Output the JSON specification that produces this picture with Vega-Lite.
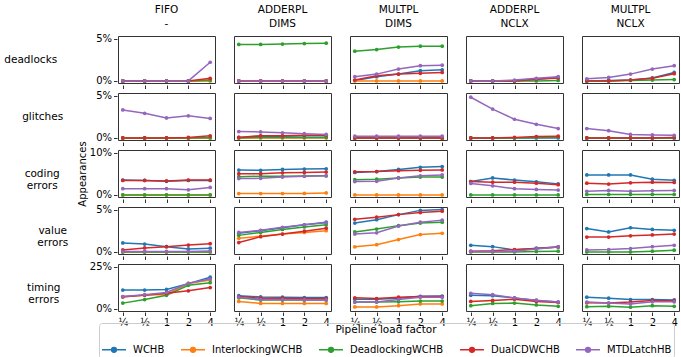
{
"$schema":"https://vega.github.io/schema/vega-lite/v6.json",
"padding":{"left":4,"top":4,"right":0,"bottom":0},
"config":{"font":"DejaVu Sans","view":{"stroke":"#333","strokeWidth":1},
"axis":{"grid":false,"domain":false,"tickColor":"#333","tickSize":3.5,"labelFontSize":10,"labelColor":"#000","titleFontSize":10,"titleFontWeight":"normal","titleColor":"#000","labelPadding":2,"titlePadding":2},
"header":{"labelFontSize":10.5,"labelColor":"#000","titleFontSize":10.5,"titleFontWeight":"normal","titleColor":"#000"},
"legend":{"labelFontSize":10,"labelColor":"#000"}},
"spacing":-11,
"datasets":{"d":[
{"m":"deadlocks","c":"FIFO -","s":"WCHB","x":"¼","v":0},{"m":"deadlocks","c":"FIFO -","s":"WCHB","x":"½","v":0},{"m":"deadlocks","c":"FIFO -","s":"WCHB","x":"1","v":0},{"m":"deadlocks","c":"FIFO -","s":"WCHB","x":"2","v":0},{"m":"deadlocks","c":"FIFO -","s":"WCHB","x":"4","v":0.05},
{"m":"deadlocks","c":"FIFO -","s":"InterlockingWCHB","x":"¼","v":0},{"m":"deadlocks","c":"FIFO -","s":"InterlockingWCHB","x":"½","v":0},{"m":"deadlocks","c":"FIFO -","s":"InterlockingWCHB","x":"1","v":0},{"m":"deadlocks","c":"FIFO -","s":"InterlockingWCHB","x":"2","v":0},{"m":"deadlocks","c":"FIFO -","s":"InterlockingWCHB","x":"4","v":0},
{"m":"deadlocks","c":"FIFO -","s":"DeadlockingWCHB","x":"¼","v":0},{"m":"deadlocks","c":"FIFO -","s":"DeadlockingWCHB","x":"½","v":0},{"m":"deadlocks","c":"FIFO -","s":"DeadlockingWCHB","x":"1","v":0},{"m":"deadlocks","c":"FIFO -","s":"DeadlockingWCHB","x":"2","v":0},{"m":"deadlocks","c":"FIFO -","s":"DeadlockingWCHB","x":"4","v":0.1},
{"m":"deadlocks","c":"FIFO -","s":"DualCDWCHB","x":"¼","v":0},{"m":"deadlocks","c":"FIFO -","s":"DualCDWCHB","x":"½","v":0},{"m":"deadlocks","c":"FIFO -","s":"DualCDWCHB","x":"1","v":0},{"m":"deadlocks","c":"FIFO -","s":"DualCDWCHB","x":"2","v":0},{"m":"deadlocks","c":"FIFO -","s":"DualCDWCHB","x":"4","v":0.3},
{"m":"deadlocks","c":"FIFO -","s":"MTDLatchHB","x":"¼","v":0},{"m":"deadlocks","c":"FIFO -","s":"MTDLatchHB","x":"½","v":0},{"m":"deadlocks","c":"FIFO -","s":"MTDLatchHB","x":"1","v":0},{"m":"deadlocks","c":"FIFO -","s":"MTDLatchHB","x":"2","v":0},{"m":"deadlocks","c":"FIFO -","s":"MTDLatchHB","x":"4","v":2.2},
{"m":"deadlocks","c":"ADDERPL DIMS","s":"WCHB","x":"¼","v":0},{"m":"deadlocks","c":"ADDERPL DIMS","s":"WCHB","x":"½","v":0},{"m":"deadlocks","c":"ADDERPL DIMS","s":"WCHB","x":"1","v":0},{"m":"deadlocks","c":"ADDERPL DIMS","s":"WCHB","x":"2","v":0},{"m":"deadlocks","c":"ADDERPL DIMS","s":"WCHB","x":"4","v":0},
{"m":"deadlocks","c":"ADDERPL DIMS","s":"InterlockingWCHB","x":"¼","v":0},{"m":"deadlocks","c":"ADDERPL DIMS","s":"InterlockingWCHB","x":"½","v":0},{"m":"deadlocks","c":"ADDERPL DIMS","s":"InterlockingWCHB","x":"1","v":0},{"m":"deadlocks","c":"ADDERPL DIMS","s":"InterlockingWCHB","x":"2","v":0},{"m":"deadlocks","c":"ADDERPL DIMS","s":"InterlockingWCHB","x":"4","v":0},
{"m":"deadlocks","c":"ADDERPL DIMS","s":"DeadlockingWCHB","x":"¼","v":4.3},{"m":"deadlocks","c":"ADDERPL DIMS","s":"DeadlockingWCHB","x":"½","v":4.3},{"m":"deadlocks","c":"ADDERPL DIMS","s":"DeadlockingWCHB","x":"1","v":4.35},{"m":"deadlocks","c":"ADDERPL DIMS","s":"DeadlockingWCHB","x":"2","v":4.4},{"m":"deadlocks","c":"ADDERPL DIMS","s":"DeadlockingWCHB","x":"4","v":4.45},
{"m":"deadlocks","c":"ADDERPL DIMS","s":"DualCDWCHB","x":"¼","v":0},{"m":"deadlocks","c":"ADDERPL DIMS","s":"DualCDWCHB","x":"½","v":0},{"m":"deadlocks","c":"ADDERPL DIMS","s":"DualCDWCHB","x":"1","v":0},{"m":"deadlocks","c":"ADDERPL DIMS","s":"DualCDWCHB","x":"2","v":0},{"m":"deadlocks","c":"ADDERPL DIMS","s":"DualCDWCHB","x":"4","v":0},
{"m":"deadlocks","c":"ADDERPL DIMS","s":"MTDLatchHB","x":"¼","v":0},{"m":"deadlocks","c":"ADDERPL DIMS","s":"MTDLatchHB","x":"½","v":0},{"m":"deadlocks","c":"ADDERPL DIMS","s":"MTDLatchHB","x":"1","v":0},{"m":"deadlocks","c":"ADDERPL DIMS","s":"MTDLatchHB","x":"2","v":0},{"m":"deadlocks","c":"ADDERPL DIMS","s":"MTDLatchHB","x":"4","v":0},
{"m":"deadlocks","c":"MULTPL DIMS","s":"WCHB","x":"¼","v":0.05},{"m":"deadlocks","c":"MULTPL DIMS","s":"WCHB","x":"½","v":0.5},{"m":"deadlocks","c":"MULTPL DIMS","s":"WCHB","x":"1","v":0.8},{"m":"deadlocks","c":"MULTPL DIMS","s":"WCHB","x":"2","v":1.2},{"m":"deadlocks","c":"MULTPL DIMS","s":"WCHB","x":"4","v":1.3},
{"m":"deadlocks","c":"MULTPL DIMS","s":"InterlockingWCHB","x":"¼","v":0},{"m":"deadlocks","c":"MULTPL DIMS","s":"InterlockingWCHB","x":"½","v":0},{"m":"deadlocks","c":"MULTPL DIMS","s":"InterlockingWCHB","x":"1","v":0},{"m":"deadlocks","c":"MULTPL DIMS","s":"InterlockingWCHB","x":"2","v":0},{"m":"deadlocks","c":"MULTPL DIMS","s":"InterlockingWCHB","x":"4","v":0},
{"m":"deadlocks","c":"MULTPL DIMS","s":"DeadlockingWCHB","x":"¼","v":3.5},{"m":"deadlocks","c":"MULTPL DIMS","s":"DeadlockingWCHB","x":"½","v":3.7},{"m":"deadlocks","c":"MULTPL DIMS","s":"DeadlockingWCHB","x":"1","v":4.0},{"m":"deadlocks","c":"MULTPL DIMS","s":"DeadlockingWCHB","x":"2","v":4.1},{"m":"deadlocks","c":"MULTPL DIMS","s":"DeadlockingWCHB","x":"4","v":4.1},
{"m":"deadlocks","c":"MULTPL DIMS","s":"DualCDWCHB","x":"¼","v":0.1},{"m":"deadlocks","c":"MULTPL DIMS","s":"DualCDWCHB","x":"½","v":0.6},{"m":"deadlocks","c":"MULTPL DIMS","s":"DualCDWCHB","x":"1","v":0.8},{"m":"deadlocks","c":"MULTPL DIMS","s":"DualCDWCHB","x":"2","v":0.9},{"m":"deadlocks","c":"MULTPL DIMS","s":"DualCDWCHB","x":"4","v":1.0},
{"m":"deadlocks","c":"MULTPL DIMS","s":"MTDLatchHB","x":"¼","v":0.5},{"m":"deadlocks","c":"MULTPL DIMS","s":"MTDLatchHB","x":"½","v":0.8},{"m":"deadlocks","c":"MULTPL DIMS","s":"MTDLatchHB","x":"1","v":1.4},{"m":"deadlocks","c":"MULTPL DIMS","s":"MTDLatchHB","x":"2","v":1.8},{"m":"deadlocks","c":"MULTPL DIMS","s":"MTDLatchHB","x":"4","v":1.85},
{"m":"deadlocks","c":"ADDERPL NCLX","s":"WCHB","x":"¼","v":0},{"m":"deadlocks","c":"ADDERPL NCLX","s":"WCHB","x":"½","v":0},{"m":"deadlocks","c":"ADDERPL NCLX","s":"WCHB","x":"1","v":0},{"m":"deadlocks","c":"ADDERPL NCLX","s":"WCHB","x":"2","v":0.2},{"m":"deadlocks","c":"ADDERPL NCLX","s":"WCHB","x":"4","v":0.4},
{"m":"deadlocks","c":"ADDERPL NCLX","s":"DeadlockingWCHB","x":"¼","v":0},{"m":"deadlocks","c":"ADDERPL NCLX","s":"DeadlockingWCHB","x":"½","v":0},{"m":"deadlocks","c":"ADDERPL NCLX","s":"DeadlockingWCHB","x":"1","v":0},{"m":"deadlocks","c":"ADDERPL NCLX","s":"DeadlockingWCHB","x":"2","v":0},{"m":"deadlocks","c":"ADDERPL NCLX","s":"DeadlockingWCHB","x":"4","v":0.05},
{"m":"deadlocks","c":"ADDERPL NCLX","s":"DualCDWCHB","x":"¼","v":0},{"m":"deadlocks","c":"ADDERPL NCLX","s":"DualCDWCHB","x":"½","v":0},{"m":"deadlocks","c":"ADDERPL NCLX","s":"DualCDWCHB","x":"1","v":0},{"m":"deadlocks","c":"ADDERPL NCLX","s":"DualCDWCHB","x":"2","v":0.2},{"m":"deadlocks","c":"ADDERPL NCLX","s":"DualCDWCHB","x":"4","v":0.35},
{"m":"deadlocks","c":"ADDERPL NCLX","s":"MTDLatchHB","x":"¼","v":0},{"m":"deadlocks","c":"ADDERPL NCLX","s":"MTDLatchHB","x":"½","v":0},{"m":"deadlocks","c":"ADDERPL NCLX","s":"MTDLatchHB","x":"1","v":0.1},{"m":"deadlocks","c":"ADDERPL NCLX","s":"MTDLatchHB","x":"2","v":0.3},{"m":"deadlocks","c":"ADDERPL NCLX","s":"MTDLatchHB","x":"4","v":0.5},
{"m":"deadlocks","c":"MULTPL NCLX","s":"WCHB","x":"¼","v":0},{"m":"deadlocks","c":"MULTPL NCLX","s":"WCHB","x":"½","v":0.05},{"m":"deadlocks","c":"MULTPL NCLX","s":"WCHB","x":"1","v":0.1},{"m":"deadlocks","c":"MULTPL NCLX","s":"WCHB","x":"2","v":0.35},{"m":"deadlocks","c":"MULTPL NCLX","s":"WCHB","x":"4","v":1.0},
{"m":"deadlocks","c":"MULTPL NCLX","s":"DeadlockingWCHB","x":"¼","v":0},{"m":"deadlocks","c":"MULTPL NCLX","s":"DeadlockingWCHB","x":"½","v":0},{"m":"deadlocks","c":"MULTPL NCLX","s":"DeadlockingWCHB","x":"1","v":0.05},{"m":"deadlocks","c":"MULTPL NCLX","s":"DeadlockingWCHB","x":"2","v":0.1},{"m":"deadlocks","c":"MULTPL NCLX","s":"DeadlockingWCHB","x":"4","v":0.15},
{"m":"deadlocks","c":"MULTPL NCLX","s":"DualCDWCHB","x":"¼","v":0},{"m":"deadlocks","c":"MULTPL NCLX","s":"DualCDWCHB","x":"½","v":0},{"m":"deadlocks","c":"MULTPL NCLX","s":"DualCDWCHB","x":"1","v":0.1},{"m":"deadlocks","c":"MULTPL NCLX","s":"DualCDWCHB","x":"2","v":0.3},{"m":"deadlocks","c":"MULTPL NCLX","s":"DualCDWCHB","x":"4","v":0.85},
{"m":"deadlocks","c":"MULTPL NCLX","s":"MTDLatchHB","x":"¼","v":0.25},{"m":"deadlocks","c":"MULTPL NCLX","s":"MTDLatchHB","x":"½","v":0.4},{"m":"deadlocks","c":"MULTPL NCLX","s":"MTDLatchHB","x":"1","v":0.8},{"m":"deadlocks","c":"MULTPL NCLX","s":"MTDLatchHB","x":"2","v":1.4},{"m":"deadlocks","c":"MULTPL NCLX","s":"MTDLatchHB","x":"4","v":1.8},

{"m":"glitches","c":"FIFO -","s":"WCHB","x":"¼","v":0},{"m":"glitches","c":"FIFO -","s":"WCHB","x":"½","v":0},{"m":"glitches","c":"FIFO -","s":"WCHB","x":"1","v":0},{"m":"glitches","c":"FIFO -","s":"WCHB","x":"2","v":0},{"m":"glitches","c":"FIFO -","s":"WCHB","x":"4","v":0},
{"m":"glitches","c":"FIFO -","s":"InterlockingWCHB","x":"¼","v":0},{"m":"glitches","c":"FIFO -","s":"InterlockingWCHB","x":"½","v":0},{"m":"glitches","c":"FIFO -","s":"InterlockingWCHB","x":"1","v":0},{"m":"glitches","c":"FIFO -","s":"InterlockingWCHB","x":"2","v":0},{"m":"glitches","c":"FIFO -","s":"InterlockingWCHB","x":"4","v":0},
{"m":"glitches","c":"FIFO -","s":"DeadlockingWCHB","x":"¼","v":0},{"m":"glitches","c":"FIFO -","s":"DeadlockingWCHB","x":"½","v":0},{"m":"glitches","c":"FIFO -","s":"DeadlockingWCHB","x":"1","v":0},{"m":"glitches","c":"FIFO -","s":"DeadlockingWCHB","x":"2","v":0},{"m":"glitches","c":"FIFO -","s":"DeadlockingWCHB","x":"4","v":0.05},
{"m":"glitches","c":"FIFO -","s":"DualCDWCHB","x":"¼","v":0},{"m":"glitches","c":"FIFO -","s":"DualCDWCHB","x":"½","v":0},{"m":"glitches","c":"FIFO -","s":"DualCDWCHB","x":"1","v":0},{"m":"glitches","c":"FIFO -","s":"DualCDWCHB","x":"2","v":0.05},{"m":"glitches","c":"FIFO -","s":"DualCDWCHB","x":"4","v":0.25},
{"m":"glitches","c":"FIFO -","s":"MTDLatchHB","x":"¼","v":3.3},{"m":"glitches","c":"FIFO -","s":"MTDLatchHB","x":"½","v":2.9},{"m":"glitches","c":"FIFO -","s":"MTDLatchHB","x":"1","v":2.35},{"m":"glitches","c":"FIFO -","s":"MTDLatchHB","x":"2","v":2.6},{"m":"glitches","c":"FIFO -","s":"MTDLatchHB","x":"4","v":2.3},
{"m":"glitches","c":"ADDERPL DIMS","s":"WCHB","x":"¼","v":0.05},{"m":"glitches","c":"ADDERPL DIMS","s":"WCHB","x":"½","v":0.2},{"m":"glitches","c":"ADDERPL DIMS","s":"WCHB","x":"1","v":0.2},{"m":"glitches","c":"ADDERPL DIMS","s":"WCHB","x":"2","v":0.25},{"m":"glitches","c":"ADDERPL DIMS","s":"WCHB","x":"4","v":0.25},
{"m":"glitches","c":"ADDERPL DIMS","s":"InterlockingWCHB","x":"¼","v":0},{"m":"glitches","c":"ADDERPL DIMS","s":"InterlockingWCHB","x":"½","v":0},{"m":"glitches","c":"ADDERPL DIMS","s":"InterlockingWCHB","x":"1","v":0},{"m":"glitches","c":"ADDERPL DIMS","s":"InterlockingWCHB","x":"2","v":0},{"m":"glitches","c":"ADDERPL DIMS","s":"InterlockingWCHB","x":"4","v":0},
{"m":"glitches","c":"ADDERPL DIMS","s":"DeadlockingWCHB","x":"¼","v":0},{"m":"glitches","c":"ADDERPL DIMS","s":"DeadlockingWCHB","x":"½","v":0.05},{"m":"glitches","c":"ADDERPL DIMS","s":"DeadlockingWCHB","x":"1","v":0.05},{"m":"glitches","c":"ADDERPL DIMS","s":"DeadlockingWCHB","x":"2","v":0.05},{"m":"glitches","c":"ADDERPL DIMS","s":"DeadlockingWCHB","x":"4","v":0.05},
{"m":"glitches","c":"ADDERPL DIMS","s":"DualCDWCHB","x":"¼","v":0.05},{"m":"glitches","c":"ADDERPL DIMS","s":"DualCDWCHB","x":"½","v":0.25},{"m":"glitches","c":"ADDERPL DIMS","s":"DualCDWCHB","x":"1","v":0.25},{"m":"glitches","c":"ADDERPL DIMS","s":"DualCDWCHB","x":"2","v":0.3},{"m":"glitches","c":"ADDERPL DIMS","s":"DualCDWCHB","x":"4","v":0.3},
{"m":"glitches","c":"ADDERPL DIMS","s":"MTDLatchHB","x":"¼","v":0.75},{"m":"glitches","c":"ADDERPL DIMS","s":"MTDLatchHB","x":"½","v":0.7},{"m":"glitches","c":"ADDERPL DIMS","s":"MTDLatchHB","x":"1","v":0.6},{"m":"glitches","c":"ADDERPL DIMS","s":"MTDLatchHB","x":"2","v":0.5},{"m":"glitches","c":"ADDERPL DIMS","s":"MTDLatchHB","x":"4","v":0.4},
{"m":"glitches","c":"MULTPL DIMS","s":"WCHB","x":"¼","v":0},{"m":"glitches","c":"MULTPL DIMS","s":"WCHB","x":"½","v":0},{"m":"glitches","c":"MULTPL DIMS","s":"WCHB","x":"1","v":0},{"m":"glitches","c":"MULTPL DIMS","s":"WCHB","x":"2","v":0},{"m":"glitches","c":"MULTPL DIMS","s":"WCHB","x":"4","v":0},
{"m":"glitches","c":"MULTPL DIMS","s":"InterlockingWCHB","x":"¼","v":0},{"m":"glitches","c":"MULTPL DIMS","s":"InterlockingWCHB","x":"½","v":0},{"m":"glitches","c":"MULTPL DIMS","s":"InterlockingWCHB","x":"1","v":0},{"m":"glitches","c":"MULTPL DIMS","s":"InterlockingWCHB","x":"2","v":0},{"m":"glitches","c":"MULTPL DIMS","s":"InterlockingWCHB","x":"4","v":0},
{"m":"glitches","c":"MULTPL DIMS","s":"DeadlockingWCHB","x":"¼","v":0},{"m":"glitches","c":"MULTPL DIMS","s":"DeadlockingWCHB","x":"½","v":0},{"m":"glitches","c":"MULTPL DIMS","s":"DeadlockingWCHB","x":"1","v":0},{"m":"glitches","c":"MULTPL DIMS","s":"DeadlockingWCHB","x":"2","v":0},{"m":"glitches","c":"MULTPL DIMS","s":"DeadlockingWCHB","x":"4","v":0},
{"m":"glitches","c":"MULTPL DIMS","s":"DualCDWCHB","x":"¼","v":0},{"m":"glitches","c":"MULTPL DIMS","s":"DualCDWCHB","x":"½","v":0},{"m":"glitches","c":"MULTPL DIMS","s":"DualCDWCHB","x":"1","v":0},{"m":"glitches","c":"MULTPL DIMS","s":"DualCDWCHB","x":"2","v":0},{"m":"glitches","c":"MULTPL DIMS","s":"DualCDWCHB","x":"4","v":0},
{"m":"glitches","c":"MULTPL DIMS","s":"MTDLatchHB","x":"¼","v":0.2},{"m":"glitches","c":"MULTPL DIMS","s":"MTDLatchHB","x":"½","v":0.2},{"m":"glitches","c":"MULTPL DIMS","s":"MTDLatchHB","x":"1","v":0.2},{"m":"glitches","c":"MULTPL DIMS","s":"MTDLatchHB","x":"2","v":0.2},{"m":"glitches","c":"MULTPL DIMS","s":"MTDLatchHB","x":"4","v":0.2},
{"m":"glitches","c":"ADDERPL NCLX","s":"WCHB","x":"¼","v":0},{"m":"glitches","c":"ADDERPL NCLX","s":"WCHB","x":"½","v":0},{"m":"glitches","c":"ADDERPL NCLX","s":"WCHB","x":"1","v":0},{"m":"glitches","c":"ADDERPL NCLX","s":"WCHB","x":"2","v":0},{"m":"glitches","c":"ADDERPL NCLX","s":"WCHB","x":"4","v":0},
{"m":"glitches","c":"ADDERPL NCLX","s":"DeadlockingWCHB","x":"¼","v":0},{"m":"glitches","c":"ADDERPL NCLX","s":"DeadlockingWCHB","x":"½","v":0},{"m":"glitches","c":"ADDERPL NCLX","s":"DeadlockingWCHB","x":"1","v":0},{"m":"glitches","c":"ADDERPL NCLX","s":"DeadlockingWCHB","x":"2","v":0.05},{"m":"glitches","c":"ADDERPL NCLX","s":"DeadlockingWCHB","x":"4","v":0.1},
{"m":"glitches","c":"ADDERPL NCLX","s":"DualCDWCHB","x":"¼","v":0},{"m":"glitches","c":"ADDERPL NCLX","s":"DualCDWCHB","x":"½","v":0},{"m":"glitches","c":"ADDERPL NCLX","s":"DualCDWCHB","x":"1","v":0.05},{"m":"glitches","c":"ADDERPL NCLX","s":"DualCDWCHB","x":"2","v":0.15},{"m":"glitches","c":"ADDERPL NCLX","s":"DualCDWCHB","x":"4","v":0.2},
{"m":"glitches","c":"ADDERPL NCLX","s":"MTDLatchHB","x":"¼","v":4.8},{"m":"glitches","c":"ADDERPL NCLX","s":"MTDLatchHB","x":"½","v":3.4},{"m":"glitches","c":"ADDERPL NCLX","s":"MTDLatchHB","x":"1","v":2.2},{"m":"glitches","c":"ADDERPL NCLX","s":"MTDLatchHB","x":"2","v":1.6},{"m":"glitches","c":"ADDERPL NCLX","s":"MTDLatchHB","x":"4","v":1.1},
{"m":"glitches","c":"MULTPL NCLX","s":"WCHB","x":"¼","v":0},{"m":"glitches","c":"MULTPL NCLX","s":"WCHB","x":"½","v":0},{"m":"glitches","c":"MULTPL NCLX","s":"WCHB","x":"1","v":0},{"m":"glitches","c":"MULTPL NCLX","s":"WCHB","x":"2","v":0},{"m":"glitches","c":"MULTPL NCLX","s":"WCHB","x":"4","v":0},
{"m":"glitches","c":"MULTPL NCLX","s":"DeadlockingWCHB","x":"¼","v":0},{"m":"glitches","c":"MULTPL NCLX","s":"DeadlockingWCHB","x":"½","v":0},{"m":"glitches","c":"MULTPL NCLX","s":"DeadlockingWCHB","x":"1","v":0},{"m":"glitches","c":"MULTPL NCLX","s":"DeadlockingWCHB","x":"2","v":0},{"m":"glitches","c":"MULTPL NCLX","s":"DeadlockingWCHB","x":"4","v":0},
{"m":"glitches","c":"MULTPL NCLX","s":"DualCDWCHB","x":"¼","v":0},{"m":"glitches","c":"MULTPL NCLX","s":"DualCDWCHB","x":"½","v":0},{"m":"glitches","c":"MULTPL NCLX","s":"DualCDWCHB","x":"1","v":0},{"m":"glitches","c":"MULTPL NCLX","s":"DualCDWCHB","x":"2","v":0},{"m":"glitches","c":"MULTPL NCLX","s":"DualCDWCHB","x":"4","v":0.05},
{"m":"glitches","c":"MULTPL NCLX","s":"MTDLatchHB","x":"¼","v":1.1},{"m":"glitches","c":"MULTPL NCLX","s":"MTDLatchHB","x":"½","v":0.85},{"m":"glitches","c":"MULTPL NCLX","s":"MTDLatchHB","x":"1","v":0.4},{"m":"glitches","c":"MULTPL NCLX","s":"MTDLatchHB","x":"2","v":0.35},{"m":"glitches","c":"MULTPL NCLX","s":"MTDLatchHB","x":"4","v":0.3},

{"m":"coding errors","c":"FIFO -","s":"WCHB","x":"¼","v":3.5},{"m":"coding errors","c":"FIFO -","s":"WCHB","x":"½","v":3.4},{"m":"coding errors","c":"FIFO -","s":"WCHB","x":"1","v":3.2},{"m":"coding errors","c":"FIFO -","s":"WCHB","x":"2","v":3.4},{"m":"coding errors","c":"FIFO -","s":"WCHB","x":"4","v":3.4},
{"m":"coding errors","c":"FIFO -","s":"InterlockingWCHB","x":"¼","v":0},{"m":"coding errors","c":"FIFO -","s":"InterlockingWCHB","x":"½","v":0},{"m":"coding errors","c":"FIFO -","s":"InterlockingWCHB","x":"1","v":0},{"m":"coding errors","c":"FIFO -","s":"InterlockingWCHB","x":"2","v":0},{"m":"coding errors","c":"FIFO -","s":"InterlockingWCHB","x":"4","v":0},
{"m":"coding errors","c":"FIFO -","s":"DeadlockingWCHB","x":"¼","v":0},{"m":"coding errors","c":"FIFO -","s":"DeadlockingWCHB","x":"½","v":0},{"m":"coding errors","c":"FIFO -","s":"DeadlockingWCHB","x":"1","v":0},{"m":"coding errors","c":"FIFO -","s":"DeadlockingWCHB","x":"2","v":0},{"m":"coding errors","c":"FIFO -","s":"DeadlockingWCHB","x":"4","v":0},
{"m":"coding errors","c":"FIFO -","s":"DualCDWCHB","x":"¼","v":3.4},{"m":"coding errors","c":"FIFO -","s":"DualCDWCHB","x":"½","v":3.4},{"m":"coding errors","c":"FIFO -","s":"DualCDWCHB","x":"1","v":3.3},{"m":"coding errors","c":"FIFO -","s":"DualCDWCHB","x":"2","v":3.5},{"m":"coding errors","c":"FIFO -","s":"DualCDWCHB","x":"4","v":3.5},
{"m":"coding errors","c":"FIFO -","s":"MTDLatchHB","x":"¼","v":1.45},{"m":"coding errors","c":"FIFO -","s":"MTDLatchHB","x":"½","v":1.45},{"m":"coding errors","c":"FIFO -","s":"MTDLatchHB","x":"1","v":1.45},{"m":"coding errors","c":"FIFO -","s":"MTDLatchHB","x":"2","v":1.2},{"m":"coding errors","c":"FIFO -","s":"MTDLatchHB","x":"4","v":1.75},
{"m":"coding errors","c":"ADDERPL DIMS","s":"WCHB","x":"¼","v":5.85},{"m":"coding errors","c":"ADDERPL DIMS","s":"WCHB","x":"½","v":5.8},{"m":"coding errors","c":"ADDERPL DIMS","s":"WCHB","x":"1","v":6.0},{"m":"coding errors","c":"ADDERPL DIMS","s":"WCHB","x":"2","v":6.1},{"m":"coding errors","c":"ADDERPL DIMS","s":"WCHB","x":"4","v":6.15},
{"m":"coding errors","c":"ADDERPL DIMS","s":"InterlockingWCHB","x":"¼","v":0.3},{"m":"coding errors","c":"ADDERPL DIMS","s":"InterlockingWCHB","x":"½","v":0.3},{"m":"coding errors","c":"ADDERPL DIMS","s":"InterlockingWCHB","x":"1","v":0.3},{"m":"coding errors","c":"ADDERPL DIMS","s":"InterlockingWCHB","x":"2","v":0.35},{"m":"coding errors","c":"ADDERPL DIMS","s":"InterlockingWCHB","x":"4","v":0.45},
{"m":"coding errors","c":"ADDERPL DIMS","s":"DeadlockingWCHB","x":"¼","v":4.3},{"m":"coding errors","c":"ADDERPL DIMS","s":"DeadlockingWCHB","x":"½","v":4.4},{"m":"coding errors","c":"ADDERPL DIMS","s":"DeadlockingWCHB","x":"1","v":4.4},{"m":"coding errors","c":"ADDERPL DIMS","s":"DeadlockingWCHB","x":"2","v":4.45},{"m":"coding errors","c":"ADDERPL DIMS","s":"DeadlockingWCHB","x":"4","v":4.5},
{"m":"coding errors","c":"ADDERPL DIMS","s":"DualCDWCHB","x":"¼","v":5.0},{"m":"coding errors","c":"ADDERPL DIMS","s":"DualCDWCHB","x":"½","v":5.0},{"m":"coding errors","c":"ADDERPL DIMS","s":"DualCDWCHB","x":"1","v":5.2},{"m":"coding errors","c":"ADDERPL DIMS","s":"DualCDWCHB","x":"2","v":5.3},{"m":"coding errors","c":"ADDERPL DIMS","s":"DualCDWCHB","x":"4","v":5.4},
{"m":"coding errors","c":"ADDERPL DIMS","s":"MTDLatchHB","x":"¼","v":3.85},{"m":"coding errors","c":"ADDERPL DIMS","s":"MTDLatchHB","x":"½","v":3.9},{"m":"coding errors","c":"ADDERPL DIMS","s":"MTDLatchHB","x":"1","v":4.2},{"m":"coding errors","c":"ADDERPL DIMS","s":"MTDLatchHB","x":"2","v":4.4},{"m":"coding errors","c":"ADDERPL DIMS","s":"MTDLatchHB","x":"4","v":4.5},
{"m":"coding errors","c":"MULTPL DIMS","s":"WCHB","x":"¼","v":5.3},{"m":"coding errors","c":"MULTPL DIMS","s":"WCHB","x":"½","v":5.5},{"m":"coding errors","c":"MULTPL DIMS","s":"WCHB","x":"1","v":6.0},{"m":"coding errors","c":"MULTPL DIMS","s":"WCHB","x":"2","v":6.5},{"m":"coding errors","c":"MULTPL DIMS","s":"WCHB","x":"4","v":6.7},
{"m":"coding errors","c":"MULTPL DIMS","s":"InterlockingWCHB","x":"¼","v":0},{"m":"coding errors","c":"MULTPL DIMS","s":"InterlockingWCHB","x":"½","v":0},{"m":"coding errors","c":"MULTPL DIMS","s":"InterlockingWCHB","x":"1","v":0},{"m":"coding errors","c":"MULTPL DIMS","s":"InterlockingWCHB","x":"2","v":0},{"m":"coding errors","c":"MULTPL DIMS","s":"InterlockingWCHB","x":"4","v":0},
{"m":"coding errors","c":"MULTPL DIMS","s":"DeadlockingWCHB","x":"¼","v":3.6},{"m":"coding errors","c":"MULTPL DIMS","s":"DeadlockingWCHB","x":"½","v":3.7},{"m":"coding errors","c":"MULTPL DIMS","s":"DeadlockingWCHB","x":"1","v":4.0},{"m":"coding errors","c":"MULTPL DIMS","s":"DeadlockingWCHB","x":"2","v":4.2},{"m":"coding errors","c":"MULTPL DIMS","s":"DeadlockingWCHB","x":"4","v":4.2},
{"m":"coding errors","c":"MULTPL DIMS","s":"DualCDWCHB","x":"¼","v":5.45},{"m":"coding errors","c":"MULTPL DIMS","s":"DualCDWCHB","x":"½","v":5.5},{"m":"coding errors","c":"MULTPL DIMS","s":"DualCDWCHB","x":"1","v":5.7},{"m":"coding errors","c":"MULTPL DIMS","s":"DualCDWCHB","x":"2","v":5.8},{"m":"coding errors","c":"MULTPL DIMS","s":"DualCDWCHB","x":"4","v":5.9},
{"m":"coding errors","c":"MULTPL DIMS","s":"MTDLatchHB","x":"¼","v":3.15},{"m":"coding errors","c":"MULTPL DIMS","s":"MTDLatchHB","x":"½","v":3.2},{"m":"coding errors","c":"MULTPL DIMS","s":"MTDLatchHB","x":"1","v":4.0},{"m":"coding errors","c":"MULTPL DIMS","s":"MTDLatchHB","x":"2","v":4.5},{"m":"coding errors","c":"MULTPL DIMS","s":"MTDLatchHB","x":"4","v":4.7},
{"m":"coding errors","c":"ADDERPL NCLX","s":"WCHB","x":"¼","v":3.15},{"m":"coding errors","c":"ADDERPL NCLX","s":"WCHB","x":"½","v":4.0},{"m":"coding errors","c":"ADDERPL NCLX","s":"WCHB","x":"1","v":3.5},{"m":"coding errors","c":"ADDERPL NCLX","s":"WCHB","x":"2","v":3.1},{"m":"coding errors","c":"ADDERPL NCLX","s":"WCHB","x":"4","v":2.6},
{"m":"coding errors","c":"ADDERPL NCLX","s":"DeadlockingWCHB","x":"¼","v":0},{"m":"coding errors","c":"ADDERPL NCLX","s":"DeadlockingWCHB","x":"½","v":0},{"m":"coding errors","c":"ADDERPL NCLX","s":"DeadlockingWCHB","x":"1","v":0},{"m":"coding errors","c":"ADDERPL NCLX","s":"DeadlockingWCHB","x":"2","v":0},{"m":"coding errors","c":"ADDERPL NCLX","s":"DeadlockingWCHB","x":"4","v":0},
{"m":"coding errors","c":"ADDERPL NCLX","s":"DualCDWCHB","x":"¼","v":3.15},{"m":"coding errors","c":"ADDERPL NCLX","s":"DualCDWCHB","x":"½","v":3.0},{"m":"coding errors","c":"ADDERPL NCLX","s":"DualCDWCHB","x":"1","v":3.0},{"m":"coding errors","c":"ADDERPL NCLX","s":"DualCDWCHB","x":"2","v":2.75},{"m":"coding errors","c":"ADDERPL NCLX","s":"DualCDWCHB","x":"4","v":2.4},
{"m":"coding errors","c":"ADDERPL NCLX","s":"MTDLatchHB","x":"¼","v":2.7},{"m":"coding errors","c":"ADDERPL NCLX","s":"MTDLatchHB","x":"½","v":2.15},{"m":"coding errors","c":"ADDERPL NCLX","s":"MTDLatchHB","x":"1","v":1.45},{"m":"coding errors","c":"ADDERPL NCLX","s":"MTDLatchHB","x":"2","v":1.3},{"m":"coding errors","c":"ADDERPL NCLX","s":"MTDLatchHB","x":"4","v":1.15},
{"m":"coding errors","c":"MULTPL NCLX","s":"WCHB","x":"¼","v":4.7},{"m":"coding errors","c":"MULTPL NCLX","s":"WCHB","x":"½","v":4.7},{"m":"coding errors","c":"MULTPL NCLX","s":"WCHB","x":"1","v":4.7},{"m":"coding errors","c":"MULTPL NCLX","s":"WCHB","x":"2","v":3.7},{"m":"coding errors","c":"MULTPL NCLX","s":"WCHB","x":"4","v":3.45},
{"m":"coding errors","c":"MULTPL NCLX","s":"DeadlockingWCHB","x":"¼","v":0.1},{"m":"coding errors","c":"MULTPL NCLX","s":"DeadlockingWCHB","x":"½","v":0.1},{"m":"coding errors","c":"MULTPL NCLX","s":"DeadlockingWCHB","x":"1","v":0.1},{"m":"coding errors","c":"MULTPL NCLX","s":"DeadlockingWCHB","x":"2","v":0.1},{"m":"coding errors","c":"MULTPL NCLX","s":"DeadlockingWCHB","x":"4","v":0.1},
{"m":"coding errors","c":"MULTPL NCLX","s":"DualCDWCHB","x":"¼","v":2.75},{"m":"coding errors","c":"MULTPL NCLX","s":"DualCDWCHB","x":"½","v":2.55},{"m":"coding errors","c":"MULTPL NCLX","s":"DualCDWCHB","x":"1","v":2.85},{"m":"coding errors","c":"MULTPL NCLX","s":"DualCDWCHB","x":"2","v":3.0},{"m":"coding errors","c":"MULTPL NCLX","s":"DualCDWCHB","x":"4","v":2.95},
{"m":"coding errors","c":"MULTPL NCLX","s":"MTDLatchHB","x":"¼","v":0.85},{"m":"coding errors","c":"MULTPL NCLX","s":"MTDLatchHB","x":"½","v":1.05},{"m":"coding errors","c":"MULTPL NCLX","s":"MTDLatchHB","x":"1","v":0.85},{"m":"coding errors","c":"MULTPL NCLX","s":"MTDLatchHB","x":"2","v":1.0},{"m":"coding errors","c":"MULTPL NCLX","s":"MTDLatchHB","x":"4","v":1.05},

{"m":"value errors","c":"FIFO -","s":"WCHB","x":"¼","v":1.05},{"m":"value errors","c":"FIFO -","s":"WCHB","x":"½","v":0.93},{"m":"value errors","c":"FIFO -","s":"WCHB","x":"1","v":0.62},{"m":"value errors","c":"FIFO -","s":"WCHB","x":"2","v":0.35},{"m":"value errors","c":"FIFO -","s":"WCHB","x":"4","v":0.43},
{"m":"value errors","c":"FIFO -","s":"InterlockingWCHB","x":"¼","v":0},{"m":"value errors","c":"FIFO -","s":"InterlockingWCHB","x":"½","v":0},{"m":"value errors","c":"FIFO -","s":"InterlockingWCHB","x":"1","v":0},{"m":"value errors","c":"FIFO -","s":"InterlockingWCHB","x":"2","v":0},{"m":"value errors","c":"FIFO -","s":"InterlockingWCHB","x":"4","v":0},
{"m":"value errors","c":"FIFO -","s":"DeadlockingWCHB","x":"¼","v":0},{"m":"value errors","c":"FIFO -","s":"DeadlockingWCHB","x":"½","v":0},{"m":"value errors","c":"FIFO -","s":"DeadlockingWCHB","x":"1","v":0},{"m":"value errors","c":"FIFO -","s":"DeadlockingWCHB","x":"2","v":0},{"m":"value errors","c":"FIFO -","s":"DeadlockingWCHB","x":"4","v":0},
{"m":"value errors","c":"FIFO -","s":"DualCDWCHB","x":"¼","v":0.23},{"m":"value errors","c":"FIFO -","s":"DualCDWCHB","x":"½","v":0.47},{"m":"value errors","c":"FIFO -","s":"DualCDWCHB","x":"1","v":0.62},{"m":"value errors","c":"FIFO -","s":"DualCDWCHB","x":"2","v":0.81},{"m":"value errors","c":"FIFO -","s":"DualCDWCHB","x":"4","v":0.97},
{"m":"value errors","c":"FIFO -","s":"MTDLatchHB","x":"¼","v":0.05},{"m":"value errors","c":"FIFO -","s":"MTDLatchHB","x":"½","v":0.05},{"m":"value errors","c":"FIFO -","s":"MTDLatchHB","x":"1","v":0.05},{"m":"value errors","c":"FIFO -","s":"MTDLatchHB","x":"2","v":0.05},{"m":"value errors","c":"FIFO -","s":"MTDLatchHB","x":"4","v":0.1},
{"m":"value errors","c":"ADDERPL DIMS","s":"WCHB","x":"¼","v":2.2},{"m":"value errors","c":"ADDERPL DIMS","s":"WCHB","x":"½","v":2.5},{"m":"value errors","c":"ADDERPL DIMS","s":"WCHB","x":"1","v":2.85},{"m":"value errors","c":"ADDERPL DIMS","s":"WCHB","x":"2","v":3.2},{"m":"value errors","c":"ADDERPL DIMS","s":"WCHB","x":"4","v":3.5},
{"m":"value errors","c":"ADDERPL DIMS","s":"InterlockingWCHB","x":"¼","v":1.6},{"m":"value errors","c":"ADDERPL DIMS","s":"InterlockingWCHB","x":"½","v":1.85},{"m":"value errors","c":"ADDERPL DIMS","s":"InterlockingWCHB","x":"1","v":2.1},{"m":"value errors","c":"ADDERPL DIMS","s":"InterlockingWCHB","x":"2","v":2.3},{"m":"value errors","c":"ADDERPL DIMS","s":"InterlockingWCHB","x":"4","v":2.5},
{"m":"value errors","c":"ADDERPL DIMS","s":"DeadlockingWCHB","x":"¼","v":1.95},{"m":"value errors","c":"ADDERPL DIMS","s":"DeadlockingWCHB","x":"½","v":2.3},{"m":"value errors","c":"ADDERPL DIMS","s":"DeadlockingWCHB","x":"1","v":2.65},{"m":"value errors","c":"ADDERPL DIMS","s":"DeadlockingWCHB","x":"2","v":2.95},{"m":"value errors","c":"ADDERPL DIMS","s":"DeadlockingWCHB","x":"4","v":3.2},
{"m":"value errors","c":"ADDERPL DIMS","s":"DualCDWCHB","x":"¼","v":1.1},{"m":"value errors","c":"ADDERPL DIMS","s":"DualCDWCHB","x":"½","v":1.8},{"m":"value errors","c":"ADDERPL DIMS","s":"DualCDWCHB","x":"1","v":2.1},{"m":"value errors","c":"ADDERPL DIMS","s":"DualCDWCHB","x":"2","v":2.45},{"m":"value errors","c":"ADDERPL DIMS","s":"DualCDWCHB","x":"4","v":2.8},
{"m":"value errors","c":"ADDERPL DIMS","s":"MTDLatchHB","x":"¼","v":2.3},{"m":"value errors","c":"ADDERPL DIMS","s":"MTDLatchHB","x":"½","v":2.55},{"m":"value errors","c":"ADDERPL DIMS","s":"MTDLatchHB","x":"1","v":2.9},{"m":"value errors","c":"ADDERPL DIMS","s":"MTDLatchHB","x":"2","v":3.2},{"m":"value errors","c":"ADDERPL DIMS","s":"MTDLatchHB","x":"4","v":3.45},
{"m":"value errors","c":"MULTPL DIMS","s":"WCHB","x":"¼","v":3.4},{"m":"value errors","c":"MULTPL DIMS","s":"WCHB","x":"½","v":3.8},{"m":"value errors","c":"MULTPL DIMS","s":"WCHB","x":"1","v":4.4},{"m":"value errors","c":"MULTPL DIMS","s":"WCHB","x":"2","v":4.9},{"m":"value errors","c":"MULTPL DIMS","s":"WCHB","x":"4","v":5.0},
{"m":"value errors","c":"MULTPL DIMS","s":"InterlockingWCHB","x":"¼","v":0.6},{"m":"value errors","c":"MULTPL DIMS","s":"InterlockingWCHB","x":"½","v":0.85},{"m":"value errors","c":"MULTPL DIMS","s":"InterlockingWCHB","x":"1","v":1.45},{"m":"value errors","c":"MULTPL DIMS","s":"InterlockingWCHB","x":"2","v":2.05},{"m":"value errors","c":"MULTPL DIMS","s":"InterlockingWCHB","x":"4","v":2.2},
{"m":"value errors","c":"MULTPL DIMS","s":"DeadlockingWCHB","x":"¼","v":2.35},{"m":"value errors","c":"MULTPL DIMS","s":"DeadlockingWCHB","x":"½","v":2.7},{"m":"value errors","c":"MULTPL DIMS","s":"DeadlockingWCHB","x":"1","v":3.1},{"m":"value errors","c":"MULTPL DIMS","s":"DeadlockingWCHB","x":"2","v":3.4},{"m":"value errors","c":"MULTPL DIMS","s":"DeadlockingWCHB","x":"4","v":3.5},
{"m":"value errors","c":"MULTPL DIMS","s":"DualCDWCHB","x":"¼","v":3.85},{"m":"value errors","c":"MULTPL DIMS","s":"DualCDWCHB","x":"½","v":4.1},{"m":"value errors","c":"MULTPL DIMS","s":"DualCDWCHB","x":"1","v":4.4},{"m":"value errors","c":"MULTPL DIMS","s":"DualCDWCHB","x":"2","v":4.65},{"m":"value errors","c":"MULTPL DIMS","s":"DualCDWCHB","x":"4","v":4.8},
{"m":"value errors","c":"MULTPL DIMS","s":"MTDLatchHB","x":"¼","v":2.1},{"m":"value errors","c":"MULTPL DIMS","s":"MTDLatchHB","x":"½","v":2.25},{"m":"value errors","c":"MULTPL DIMS","s":"MTDLatchHB","x":"1","v":3.05},{"m":"value errors","c":"MULTPL DIMS","s":"MTDLatchHB","x":"2","v":3.5},{"m":"value errors","c":"MULTPL DIMS","s":"MTDLatchHB","x":"4","v":3.75},
{"m":"value errors","c":"ADDERPL NCLX","s":"WCHB","x":"¼","v":0.78},{"m":"value errors","c":"ADDERPL NCLX","s":"WCHB","x":"½","v":0.62},{"m":"value errors","c":"ADDERPL NCLX","s":"WCHB","x":"1","v":0.23},{"m":"value errors","c":"ADDERPL NCLX","s":"WCHB","x":"2","v":0.43},{"m":"value errors","c":"ADDERPL NCLX","s":"WCHB","x":"4","v":0.58},
{"m":"value errors","c":"ADDERPL NCLX","s":"DeadlockingWCHB","x":"¼","v":0},{"m":"value errors","c":"ADDERPL NCLX","s":"DeadlockingWCHB","x":"½","v":0},{"m":"value errors","c":"ADDERPL NCLX","s":"DeadlockingWCHB","x":"1","v":0},{"m":"value errors","c":"ADDERPL NCLX","s":"DeadlockingWCHB","x":"2","v":0.04},{"m":"value errors","c":"ADDERPL NCLX","s":"DeadlockingWCHB","x":"4","v":0.08},
{"m":"value errors","c":"ADDERPL NCLX","s":"DualCDWCHB","x":"¼","v":0.08},{"m":"value errors","c":"ADDERPL NCLX","s":"DualCDWCHB","x":"½","v":0.12},{"m":"value errors","c":"ADDERPL NCLX","s":"DualCDWCHB","x":"1","v":0.27},{"m":"value errors","c":"ADDERPL NCLX","s":"DualCDWCHB","x":"2","v":0.39},{"m":"value errors","c":"ADDERPL NCLX","s":"DualCDWCHB","x":"4","v":0.58},
{"m":"value errors","c":"ADDERPL NCLX","s":"MTDLatchHB","x":"¼","v":0.04},{"m":"value errors","c":"ADDERPL NCLX","s":"MTDLatchHB","x":"½","v":0.04},{"m":"value errors","c":"ADDERPL NCLX","s":"MTDLatchHB","x":"1","v":0.08},{"m":"value errors","c":"ADDERPL NCLX","s":"MTDLatchHB","x":"2","v":0.35},{"m":"value errors","c":"ADDERPL NCLX","s":"MTDLatchHB","x":"4","v":0.58},
{"m":"value errors","c":"MULTPL NCLX","s":"WCHB","x":"¼","v":2.75},{"m":"value errors","c":"MULTPL NCLX","s":"WCHB","x":"½","v":2.35},{"m":"value errors","c":"MULTPL NCLX","s":"WCHB","x":"1","v":2.85},{"m":"value errors","c":"MULTPL NCLX","s":"WCHB","x":"2","v":2.65},{"m":"value errors","c":"MULTPL NCLX","s":"WCHB","x":"4","v":2.55},
{"m":"value errors","c":"MULTPL NCLX","s":"DeadlockingWCHB","x":"¼","v":0},{"m":"value errors","c":"MULTPL NCLX","s":"DeadlockingWCHB","x":"½","v":0},{"m":"value errors","c":"MULTPL NCLX","s":"DeadlockingWCHB","x":"1","v":0},{"m":"value errors","c":"MULTPL NCLX","s":"DeadlockingWCHB","x":"2","v":0.08},{"m":"value errors","c":"MULTPL NCLX","s":"DeadlockingWCHB","x":"4","v":0.2},
{"m":"value errors","c":"MULTPL NCLX","s":"DualCDWCHB","x":"¼","v":1.75},{"m":"value errors","c":"MULTPL NCLX","s":"DualCDWCHB","x":"½","v":1.75},{"m":"value errors","c":"MULTPL NCLX","s":"DualCDWCHB","x":"1","v":1.9},{"m":"value errors","c":"MULTPL NCLX","s":"DualCDWCHB","x":"2","v":2.0},{"m":"value errors","c":"MULTPL NCLX","s":"DualCDWCHB","x":"4","v":2.1},
{"m":"value errors","c":"MULTPL NCLX","s":"MTDLatchHB","x":"¼","v":0.23},{"m":"value errors","c":"MULTPL NCLX","s":"MTDLatchHB","x":"½","v":0.27},{"m":"value errors","c":"MULTPL NCLX","s":"MTDLatchHB","x":"1","v":0.39},{"m":"value errors","c":"MULTPL NCLX","s":"MTDLatchHB","x":"2","v":0.62},{"m":"value errors","c":"MULTPL NCLX","s":"MTDLatchHB","x":"4","v":0.78},

{"m":"timing errors","c":"FIFO -","s":"WCHB","x":"¼","v":11.1},{"m":"timing errors","c":"FIFO -","s":"WCHB","x":"½","v":11.1},{"m":"timing errors","c":"FIFO -","s":"WCHB","x":"1","v":11.5},{"m":"timing errors","c":"FIFO -","s":"WCHB","x":"2","v":14.9},{"m":"timing errors","c":"FIFO -","s":"WCHB","x":"4","v":18.7},
{"m":"timing errors","c":"FIFO -","s":"InterlockingWCHB","x":"¼","v":7.0},{"m":"timing errors","c":"FIFO -","s":"InterlockingWCHB","x":"½","v":8.2},{"m":"timing errors","c":"FIFO -","s":"InterlockingWCHB","x":"1","v":8.5},{"m":"timing errors","c":"FIFO -","s":"InterlockingWCHB","x":"2","v":15.0},{"m":"timing errors","c":"FIFO -","s":"InterlockingWCHB","x":"4","v":17.0},
{"m":"timing errors","c":"FIFO -","s":"DeadlockingWCHB","x":"¼","v":3.4},{"m":"timing errors","c":"FIFO -","s":"DeadlockingWCHB","x":"½","v":5.5},{"m":"timing errors","c":"FIFO -","s":"DeadlockingWCHB","x":"1","v":8.0},{"m":"timing errors","c":"FIFO -","s":"DeadlockingWCHB","x":"2","v":13.9},{"m":"timing errors","c":"FIFO -","s":"DeadlockingWCHB","x":"4","v":15.5},
{"m":"timing errors","c":"FIFO -","s":"DualCDWCHB","x":"¼","v":7.1},{"m":"timing errors","c":"FIFO -","s":"DualCDWCHB","x":"½","v":8.0},{"m":"timing errors","c":"FIFO -","s":"DualCDWCHB","x":"1","v":9.2},{"m":"timing errors","c":"FIFO -","s":"DualCDWCHB","x":"2","v":10.7},{"m":"timing errors","c":"FIFO -","s":"DualCDWCHB","x":"4","v":12.6},
{"m":"timing errors","c":"FIFO -","s":"MTDLatchHB","x":"¼","v":7.25},{"m":"timing errors","c":"FIFO -","s":"MTDLatchHB","x":"½","v":8.4},{"m":"timing errors","c":"FIFO -","s":"MTDLatchHB","x":"1","v":9.7},{"m":"timing errors","c":"FIFO -","s":"MTDLatchHB","x":"2","v":15.1},{"m":"timing errors","c":"FIFO -","s":"MTDLatchHB","x":"4","v":17.6},
{"m":"timing errors","c":"ADDERPL DIMS","s":"WCHB","x":"¼","v":7.8},{"m":"timing errors","c":"ADDERPL DIMS","s":"WCHB","x":"½","v":7.05},{"m":"timing errors","c":"ADDERPL DIMS","s":"WCHB","x":"1","v":6.9},{"m":"timing errors","c":"ADDERPL DIMS","s":"WCHB","x":"2","v":6.7},{"m":"timing errors","c":"ADDERPL DIMS","s":"WCHB","x":"4","v":6.7},
{"m":"timing errors","c":"ADDERPL DIMS","s":"InterlockingWCHB","x":"¼","v":4.4},{"m":"timing errors","c":"ADDERPL DIMS","s":"InterlockingWCHB","x":"½","v":3.2},{"m":"timing errors","c":"ADDERPL DIMS","s":"InterlockingWCHB","x":"1","v":3.2},{"m":"timing errors","c":"ADDERPL DIMS","s":"InterlockingWCHB","x":"2","v":3.2},{"m":"timing errors","c":"ADDERPL DIMS","s":"InterlockingWCHB","x":"4","v":3.2},
{"m":"timing errors","c":"ADDERPL DIMS","s":"DeadlockingWCHB","x":"¼","v":6.5},{"m":"timing errors","c":"ADDERPL DIMS","s":"DeadlockingWCHB","x":"½","v":5.2},{"m":"timing errors","c":"ADDERPL DIMS","s":"DeadlockingWCHB","x":"1","v":5.2},{"m":"timing errors","c":"ADDERPL DIMS","s":"DeadlockingWCHB","x":"2","v":5.2},{"m":"timing errors","c":"ADDERPL DIMS","s":"DeadlockingWCHB","x":"4","v":5.2},
{"m":"timing errors","c":"ADDERPL DIMS","s":"DualCDWCHB","x":"¼","v":7.25},{"m":"timing errors","c":"ADDERPL DIMS","s":"DualCDWCHB","x":"½","v":6.3},{"m":"timing errors","c":"ADDERPL DIMS","s":"DualCDWCHB","x":"1","v":6.3},{"m":"timing errors","c":"ADDERPL DIMS","s":"DualCDWCHB","x":"2","v":6.1},{"m":"timing errors","c":"ADDERPL DIMS","s":"DualCDWCHB","x":"4","v":6.1},
{"m":"timing errors","c":"ADDERPL DIMS","s":"MTDLatchHB","x":"¼","v":6.9},{"m":"timing errors","c":"ADDERPL DIMS","s":"MTDLatchHB","x":"½","v":5.5},{"m":"timing errors","c":"ADDERPL DIMS","s":"MTDLatchHB","x":"1","v":5.5},{"m":"timing errors","c":"ADDERPL DIMS","s":"MTDLatchHB","x":"2","v":5.3},{"m":"timing errors","c":"ADDERPL DIMS","s":"MTDLatchHB","x":"4","v":5.3},
{"m":"timing errors","c":"MULTPL DIMS","s":"WCHB","x":"¼","v":5.7},{"m":"timing errors","c":"MULTPL DIMS","s":"WCHB","x":"½","v":5.7},{"m":"timing errors","c":"MULTPL DIMS","s":"WCHB","x":"1","v":6.3},{"m":"timing errors","c":"MULTPL DIMS","s":"WCHB","x":"2","v":7.4},{"m":"timing errors","c":"MULTPL DIMS","s":"WCHB","x":"4","v":7.6},
{"m":"timing errors","c":"MULTPL DIMS","s":"InterlockingWCHB","x":"¼","v":1.15},{"m":"timing errors","c":"MULTPL DIMS","s":"InterlockingWCHB","x":"½","v":1.15},{"m":"timing errors","c":"MULTPL DIMS","s":"InterlockingWCHB","x":"1","v":1.9},{"m":"timing errors","c":"MULTPL DIMS","s":"InterlockingWCHB","x":"2","v":2.9},{"m":"timing errors","c":"MULTPL DIMS","s":"InterlockingWCHB","x":"4","v":2.9},
{"m":"timing errors","c":"MULTPL DIMS","s":"DeadlockingWCHB","x":"¼","v":4.0},{"m":"timing errors","c":"MULTPL DIMS","s":"DeadlockingWCHB","x":"½","v":4.0},{"m":"timing errors","c":"MULTPL DIMS","s":"DeadlockingWCHB","x":"1","v":4.2},{"m":"timing errors","c":"MULTPL DIMS","s":"DeadlockingWCHB","x":"2","v":4.6},{"m":"timing errors","c":"MULTPL DIMS","s":"DeadlockingWCHB","x":"4","v":4.6},
{"m":"timing errors","c":"MULTPL DIMS","s":"DualCDWCHB","x":"¼","v":6.5},{"m":"timing errors","c":"MULTPL DIMS","s":"DualCDWCHB","x":"½","v":6.1},{"m":"timing errors","c":"MULTPL DIMS","s":"DualCDWCHB","x":"1","v":6.9},{"m":"timing errors","c":"MULTPL DIMS","s":"DualCDWCHB","x":"2","v":7.25},{"m":"timing errors","c":"MULTPL DIMS","s":"DualCDWCHB","x":"4","v":7.25},
{"m":"timing errors","c":"MULTPL DIMS","s":"MTDLatchHB","x":"¼","v":4.0},{"m":"timing errors","c":"MULTPL DIMS","s":"MTDLatchHB","x":"½","v":4.0},{"m":"timing errors","c":"MULTPL DIMS","s":"MTDLatchHB","x":"1","v":5.5},{"m":"timing errors","c":"MULTPL DIMS","s":"MTDLatchHB","x":"2","v":6.9},{"m":"timing errors","c":"MULTPL DIMS","s":"MTDLatchHB","x":"4","v":6.9},
{"m":"timing errors","c":"ADDERPL NCLX","s":"WCHB","x":"¼","v":8.0},{"m":"timing errors","c":"ADDERPL NCLX","s":"WCHB","x":"½","v":7.8},{"m":"timing errors","c":"ADDERPL NCLX","s":"WCHB","x":"1","v":6.5},{"m":"timing errors","c":"ADDERPL NCLX","s":"WCHB","x":"2","v":5.0},{"m":"timing errors","c":"ADDERPL NCLX","s":"WCHB","x":"4","v":4.0},
{"m":"timing errors","c":"ADDERPL NCLX","s":"DeadlockingWCHB","x":"¼","v":1.9},{"m":"timing errors","c":"ADDERPL NCLX","s":"DeadlockingWCHB","x":"½","v":3.2},{"m":"timing errors","c":"ADDERPL NCLX","s":"DeadlockingWCHB","x":"1","v":3.4},{"m":"timing errors","c":"ADDERPL NCLX","s":"DeadlockingWCHB","x":"2","v":2.3},{"m":"timing errors","c":"ADDERPL NCLX","s":"DeadlockingWCHB","x":"4","v":1.5},
{"m":"timing errors","c":"ADDERPL NCLX","s":"DualCDWCHB","x":"¼","v":4.4},{"m":"timing errors","c":"ADDERPL NCLX","s":"DualCDWCHB","x":"½","v":5.0},{"m":"timing errors","c":"ADDERPL NCLX","s":"DualCDWCHB","x":"1","v":5.7},{"m":"timing errors","c":"ADDERPL NCLX","s":"DualCDWCHB","x":"2","v":4.4},{"m":"timing errors","c":"ADDERPL NCLX","s":"DualCDWCHB","x":"4","v":3.8},
{"m":"timing errors","c":"ADDERPL NCLX","s":"MTDLatchHB","x":"¼","v":9.2},{"m":"timing errors","c":"ADDERPL NCLX","s":"MTDLatchHB","x":"½","v":8.4},{"m":"timing errors","c":"ADDERPL NCLX","s":"MTDLatchHB","x":"1","v":6.5},{"m":"timing errors","c":"ADDERPL NCLX","s":"MTDLatchHB","x":"2","v":5.15},{"m":"timing errors","c":"ADDERPL NCLX","s":"MTDLatchHB","x":"4","v":4.0},
{"m":"timing errors","c":"MULTPL NCLX","s":"WCHB","x":"¼","v":6.9},{"m":"timing errors","c":"MULTPL NCLX","s":"WCHB","x":"½","v":6.3},{"m":"timing errors","c":"MULTPL NCLX","s":"WCHB","x":"1","v":5.5},{"m":"timing errors","c":"MULTPL NCLX","s":"WCHB","x":"2","v":5.5},{"m":"timing errors","c":"MULTPL NCLX","s":"WCHB","x":"4","v":5.3},
{"m":"timing errors","c":"MULTPL NCLX","s":"DeadlockingWCHB","x":"¼","v":1.3},{"m":"timing errors","c":"MULTPL NCLX","s":"DeadlockingWCHB","x":"½","v":1.5},{"m":"timing errors","c":"MULTPL NCLX","s":"DeadlockingWCHB","x":"1","v":1.0},{"m":"timing errors","c":"MULTPL NCLX","s":"DeadlockingWCHB","x":"2","v":1.9},{"m":"timing errors","c":"MULTPL NCLX","s":"DeadlockingWCHB","x":"4","v":1.5},
{"m":"timing errors","c":"MULTPL NCLX","s":"DualCDWCHB","x":"¼","v":3.6},{"m":"timing errors","c":"MULTPL NCLX","s":"DualCDWCHB","x":"½","v":3.4},{"m":"timing errors","c":"MULTPL NCLX","s":"DualCDWCHB","x":"1","v":4.0},{"m":"timing errors","c":"MULTPL NCLX","s":"DualCDWCHB","x":"2","v":5.0},{"m":"timing errors","c":"MULTPL NCLX","s":"DualCDWCHB","x":"4","v":4.8},
{"m":"timing errors","c":"MULTPL NCLX","s":"MTDLatchHB","x":"¼","v":4.0},{"m":"timing errors","c":"MULTPL NCLX","s":"MTDLatchHB","x":"½","v":3.4},{"m":"timing errors","c":"MULTPL NCLX","s":"MTDLatchHB","x":"1","v":2.9},{"m":"timing errors","c":"MULTPL NCLX","s":"MTDLatchHB","x":"2","v":4.2},{"m":"timing errors","c":"MULTPL NCLX","s":"MTDLatchHB","x":"4","v":4.2}
]},
"vconcat":[
{"data":{"name":"d"},"transform":[{"filter":"datum.m === 'deadlocks'"}],
"facet":{"row":{"field":"m","type":"nominal","header":{"title":null,"labelAngle":0,"labelAlign":"center","labelBaseline":"middle","labelExpr":"split(datum.value,' ')","labelPadding":0}},
"column":{"field":"c","type":"nominal","sort":["FIFO -","ADDERPL DIMS","MULTPL DIMS","ADDERPL NCLX","MULTPL NCLX"],"header":{"title":null,"labelExpr":"split(datum.value,' ')","labelPadding":6,"labelLineHeight":14}}},
"spacing":{"column":17,"row":0},
"spec":{"width":97,"height":47,
"mark":{"type":"line","strokeWidth":1.5,"point":{"filled":true,"size":14}},
"encoding":{"x":{"field":"x","type":"ordinal","sort":["¼","½","1","2","4"],"scale":{"type":"point","padding":0.22},"axis":{"labels":false,"title":null}},
"y":{"field":"v","type":"quantitative","scale":{"domain":[-0.25,5.3],"nice":false},"axis":{"values":[0,5],"labelExpr":"datum.value + '%'","title":"Appearances","titleOpacity":0}},
"color":{"field":"s","type":"nominal","scale":{"domain":["WCHB","InterlockingWCHB","DeadlockingWCHB","DualCDWCHB","MTDLatchHB"],"range":["#1f77b4","#ff7f0e","#2ca02c","#d62728","#9467bd"]},
"legend":{"orient":"none","legendX":-19,"legendY":287,"direction":"horizontal","title":"Pipeline load factor","titleOrient":"top","titleAnchor":"middle","titleAlign":"center","titleFontSize":10.5,"titleFontWeight":"normal","titleColor":"#000","titlePadding":1,"titleLimit":400,"strokeColor":"#ccc","padding":2,"columnPadding":13,"labelOffset":6,"symbolType":"M-1,0H1M-0.2,0A0.2,0.2,0,1,1,0.2,0A0.2,0.2,0,1,1,-0.2,0Z","symbolSize":576,"symbolStrokeWidth":1.5,"cornerRadius":3,"encode":{"symbols":{"update":{"fill":{"scale":"color","field":"value"}}}}}}}}},
{"data":{"name":"d"},"transform":[{"filter":"datum.m === 'glitches'"}],
"facet":{"row":{"field":"m","type":"nominal","header":{"title":null,"labelAngle":0,"labelAlign":"center","labelBaseline":"middle","labelExpr":"split(datum.value,' ')","labelPadding":0}},
"column":{"field":"c","type":"nominal","sort":["FIFO -","ADDERPL DIMS","MULTPL DIMS","ADDERPL NCLX","MULTPL NCLX"],"header":{"title":null,"labels":false}}},
"spacing":{"column":17,"row":0},
"spec":{"width":97,"height":47,
"mark":{"type":"line","strokeWidth":1.5,"point":{"filled":true,"size":14}},
"encoding":{"x":{"field":"x","type":"ordinal","sort":["¼","½","1","2","4"],"scale":{"type":"point","padding":0.22},"axis":{"labels":false,"title":null}},
"y":{"field":"v","type":"quantitative","scale":{"domain":[-0.25,5.3],"nice":false},"axis":{"values":[0,5],"labelExpr":"datum.value + '%'","title":"Appearances","titleOpacity":0}},
"color":{"field":"s","type":"nominal"}}}},
{"data":{"name":"d"},"transform":[{"filter":"datum.m === 'coding errors'"}],
"facet":{"row":{"field":"m","type":"nominal","header":{"title":null,"labelAngle":0,"labelAlign":"center","labelBaseline":"middle","labelExpr":"split(datum.value,' ')","labelPadding":0}},
"column":{"field":"c","type":"nominal","sort":["FIFO -","ADDERPL DIMS","MULTPL DIMS","ADDERPL NCLX","MULTPL NCLX"],"header":{"title":null,"labels":false}}},
"spacing":{"column":17,"row":0},
"spec":{"width":97,"height":47,
"mark":{"type":"line","strokeWidth":1.5,"point":{"filled":true,"size":14}},
"encoding":{"x":{"field":"x","type":"ordinal","sort":["¼","½","1","2","4"],"scale":{"type":"point","padding":0.22},"axis":{"labels":false,"title":null}},
"y":{"field":"v","type":"quantitative","scale":{"domain":[-0.5,10.6],"nice":false},"axis":{"values":[0,10],"labelExpr":"datum.value + '%'","title":"Appearances"}},
"color":{"field":"s","type":"nominal"}}}},
{"data":{"name":"d"},"transform":[{"filter":"datum.m === 'value errors'"}],
"facet":{"row":{"field":"m","type":"nominal","header":{"title":null,"labelAngle":0,"labelAlign":"center","labelBaseline":"middle","labelExpr":"split(datum.value,' ')","labelPadding":0}},
"column":{"field":"c","type":"nominal","sort":["FIFO -","ADDERPL DIMS","MULTPL DIMS","ADDERPL NCLX","MULTPL NCLX"],"header":{"title":null,"labels":false}}},
"spacing":{"column":17,"row":0},
"spec":{"width":97,"height":47,
"mark":{"type":"line","strokeWidth":1.5,"point":{"filled":true,"size":14}},
"encoding":{"x":{"field":"x","type":"ordinal","sort":["¼","½","1","2","4"],"scale":{"type":"point","padding":0.22},"axis":{"labels":false,"title":null}},
"y":{"field":"v","type":"quantitative","scale":{"domain":[-0.25,5.3],"nice":false},"axis":{"values":[0,5],"labelExpr":"datum.value + '%'","title":"Appearances","titleOpacity":0}},
"color":{"field":"s","type":"nominal"}}}},
{"data":{"name":"d"},"transform":[{"filter":"datum.m === 'timing errors'"}],
"facet":{"row":{"field":"m","type":"nominal","header":{"title":null,"labelAngle":0,"labelAlign":"center","labelBaseline":"middle","labelExpr":"split(datum.value,' ')","labelPadding":0}},
"column":{"field":"c","type":"nominal","sort":["FIFO -","ADDERPL DIMS","MULTPL DIMS","ADDERPL NCLX","MULTPL NCLX"],"header":{"title":null,"labels":false}}},
"spacing":{"column":17,"row":0},
"spec":{"width":97,"height":47,
"mark":{"type":"line","strokeWidth":1.5,"point":{"filled":true,"size":14}},
"encoding":{"x":{"field":"x","type":"ordinal","sort":["¼","½","1","2","4"],"scale":{"type":"point","padding":0.22},"axis":{"labelAngle":0,"title":null}},
"y":{"field":"v","type":"quantitative","scale":{"domain":[-1.25,26.5],"nice":false},"axis":{"values":[0,25],"labelExpr":"datum.value + '%'","title":"Appearances","titleOpacity":0}},
"color":{"field":"s","type":"nominal"}}}}
]
}
